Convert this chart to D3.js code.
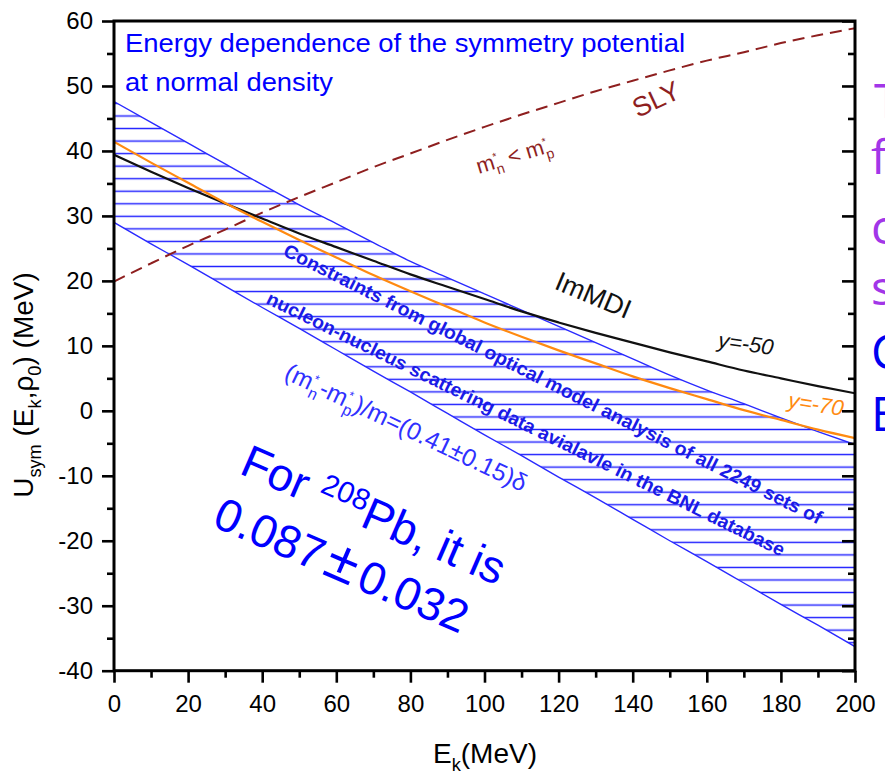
<!DOCTYPE html>
<html>
<head>
<meta charset="utf-8">
<script src="https://cdn.jsdelivr.net/npm/d3@7"></script>
<style>
  body { margin: 0; background: #fff; }
  svg { display: block; }
  text { font-family: "Liberation Sans", Arial, sans-serif; }
</style>
</head>
<body>
<svg id="chart" width="885" height="779"></svg>
<script>
// Kinetic energy grid (MeV) shared by every curve
const energy = [0, 10, 20, 30, 40, 50, 60, 70, 80, 90, 100, 110, 120, 130, 140, 150, 160, 170, 180, 190, 200];

// Symmetry potential U_sym (MeV) at normal density
const immdiY50 = [39.4, 36.8, 34.3, 31.9, 29.6, 27.3, 25.2, 23.1, 21.0, 19.1, 17.2, 15.3, 13.6, 12.0, 10.5, 9.0, 7.6, 6.2, 5.0, 3.8, 2.7];
const immdiY70 = [41.4, 38.2, 35.1, 32.0, 29.1, 26.3, 23.6, 20.9, 18.4, 16.0, 13.6, 11.4, 9.3, 7.3, 5.3, 3.5, 1.8, 0.1, -1.4, -2.9, -4.2];
const slyU     = [19.9, 22.7, 25.4, 27.9, 30.5, 32.9, 35.2, 37.5, 39.6, 41.7, 43.7, 45.6, 47.4, 49.2, 50.8, 52.4, 53.9, 55.2, 56.6, 57.8, 58.9];

// Optical-model constraint band
const bandUpper = [47.6, 44.4, 41.2, 38.0, 34.8, 31.7, 28.8, 25.9, 23.0, 20.5, 18.0, 15.5, 13.0, 10.5, 8.0, 5.5, 3.2, 1.1, -1.1, -3.2, -5.2];
const bandLower = [29.0, 25.7, 22.5, 19.2, 15.9, 12.7, 9.4, 6.1, 2.9, -0.4, -3.7, -6.9, -10.2, -13.4, -16.7, -20.0, -23.2, -26.5, -29.8, -33.0, -36.3];

// Axis ticks
const xTicks = [0, 20, 40, 60, 80, 100, 120, 140, 160, 180, 200];
const xMinor = [10, 30, 50, 70, 90, 110, 130, 150, 170, 190];
const yTicks = [-40, -30, -20, -10, 0, 10, 20, 30, 40, 50, 60];
const yMinor = [-35, -25, -15, -5, 5, 15, 25, 35, 45, 55];

// Slide text continuing past the right edge
const sideLetters = ["T", "f", "c", "s", "C", "E"];
const sideColors  = ["#a236e8", "#a236e8", "#a236e8", "#a236e8", "#0000f0", "#0000f0"];

const svg = d3.select("#chart");
const x = d3.scaleLinear().domain([0, 200]).range([114, 855]);
const y = d3.scaleLinear().domain([-40, 60]).range([670.7, 21]);

const defs = svg.append("defs");
defs.append("clipPath").attr("id", "plot-clip")
  .append("rect").attr("x", x(0)).attr("y", y(60))
  .attr("width", x(200) - x(0)).attr("height", y(-40) - y(60));

const hatchGap = 12.54;
const hatch = defs.append("pattern").attr("id", "hatch")
  .attr("patternUnits", "userSpaceOnUse")
  .attr("x", 0).attr("y", -3.13)
  .attr("width", 885).attr("height", hatchGap);
hatch.append("line")
  .attr("x1", 0).attr("x2", 885)
  .attr("y1", hatchGap / 2).attr("y2", hatchGap / 2)
  .attr("stroke", "#2020ff").attr("stroke-width", 1.5);

const plot = svg.append("g").attr("clip-path", "url(#plot-clip)");
const idx = energy.map((_, i) => i);

// Hatched constraint band
const band = d3.area()
  .x(i => x(energy[i]))
  .y0(i => y(bandLower[i]))
  .y1(i => y(bandUpper[i]))
  .curve(d3.curveMonotoneX);
plot.append("path").attr("d", band(idx)).attr("fill", "url(#hatch)");

function curveOf(values) {
  return d3.line().x(i => x(energy[i])).y(i => y(values[i])).curve(d3.curveMonotoneX)(idx);
}
plot.append("path").attr("d", curveOf(bandUpper)).attr("fill", "none").attr("stroke", "#2a2aff").attr("stroke-width", 1.4);
plot.append("path").attr("d", curveOf(bandLower)).attr("fill", "none").attr("stroke", "#2a2aff").attr("stroke-width", 1.4);

// Model curves
plot.append("path").attr("d", curveOf(slyU)).attr("fill", "none")
  .attr("stroke", "#8e1f1f").attr("stroke-width", 2).attr("stroke-dasharray", "12,7");
plot.append("path").attr("d", curveOf(immdiY50)).attr("fill", "none")
  .attr("stroke", "#111").attr("stroke-width", 2.2);
plot.append("path").attr("d", curveOf(immdiY70)).attr("fill", "none")
  .attr("stroke", "#ff8a10").attr("stroke-width", 2.2);

// Rich text helper: parts with optional sub/sup
function rich(textSel, parts, size) {
  let shift = 0;
  parts.forEach(p => {
    const target = p.sub ? size * 0.28 : p.sup ? -size * (p.raise || 0.38) : 0;
    const fs = p.sub || p.sup ? size * (p.scale || 0.65) : size * (p.scale || 1);
    const t = textSel.append("tspan")
      .attr("dy", target - shift)
      .style("font-size", fs + "px")
      .text(p.t);
    if (p.dx) t.attr("dx", p.dx);
    shift = target;
  });
}

function label(cx, cy, angle) {
  return svg.append("g").attr("transform", `translate(${cx},${cy}) rotate(${angle})`);
}

// Title
svg.append("text").attr("x", 125).attr("y", 52).attr("fill", "#0000ff")
  .style("font-size", "25px").attr("textLength", 560).attr("lengthAdjust", "spacingAndGlyphs")
  .text("Energy dependence of the symmetry potential");
svg.append("text").attr("x", 125).attr("y", 91).attr("fill", "#0000ff")
  .style("font-size", "25px").attr("textLength", 208).attr("lengthAdjust", "spacingAndGlyphs")
  .text("at normal density");

// Curve labels
label(656, 99, -25).append("text").attr("text-anchor", "middle").attr("y", 9.5)
  .attr("fill", "#8e1f1f").style("font-size", "27px").text("SLY");

const mlab = label(514, 156, -17).append("text").attr("text-anchor", "middle").attr("y", 7)
  .attr("fill", "#8e1f1f").style("font-size", "22px");
rich(mlab, [
  { t: "m" }, { t: "*", sup: true, scale: 0.5 }, { t: "n", sub: true, dx: -4 },
  { t: " < m" }, { t: "*", sup: true, scale: 0.5 }, { t: "p", sub: true, dx: -4 }
], 22);

label(593.5, 295, 23).append("text").attr("text-anchor", "middle").attr("y", 9.5)
  .attr("fill", "#111").style("font-size", "27px").text("ImMDI");

label(746, 343.5, 8).append("text").attr("text-anchor", "middle").attr("y", 7.7)
  .attr("fill", "#111").style("font-size", "22px").style("font-style", "italic").text("y=-50");

label(816, 404, 9).append("text").attr("text-anchor", "middle").attr("y", 7.7)
  .attr("fill", "#ff8a10").style("font-size", "22px").style("font-style", "italic").text("y=-70");

// Band annotations
label(282, 255, 26.7).append("text")
  .attr("fill", "#1a1ae6").style("font-size", "19px").style("font-weight", "bold")
  .attr("textLength", 600).attr("lengthAdjust", "spacingAndGlyphs")
  .text("Constraints from global optical model analysis of all 2249 sets of");
label(265, 303, 26.2).append("text")
  .attr("fill", "#1a1ae6").style("font-size", "19px").style("font-weight", "bold")
  .attr("textLength", 575).attr("lengthAdjust", "spacingAndGlyphs")
  .text("nucleon-nucleus scattering data avialavle in the BNL database");

const ratio = label(283, 378, 25.5).append("text").attr("fill", "#3030ff").style("font-size", "24.5px");
rich(ratio, [
  { t: "(m" }, { t: "*", sup: true, scale: 0.5 }, { t: "n", sub: true, dx: -4 },
  { t: "-m" }, { t: "*", sup: true, scale: 0.5 }, { t: "p", sub: true, dx: -4 },
  { t: ")/m=(0.41±0.15)δ" }
], 24.5);

// Lead-208 note
const note = label(238, 473, 23.5);
const note1 = note.append("text").attr("fill", "#0000ff").style("font-size", "46px");
rich(note1, [{ t: "For " }, { t: "208", sup: true, raise: 0.33 }, { t: "Pb, it is" }], 46);
const note2 = note.append("text").attr("x", -4).attr("y", 59).attr("fill", "#0000ff").style("font-size", "46px");
rich(note2, [{ t: "0.087" }, { t: "±", scale: 1.25, dx: 5 }, { t: "0.032", dx: 5 }], 46);

// Axes
function styleAxis(g, size) {
  g.attr("font-family", null).attr("font-size", null);
  g.select(".domain").remove();
  g.selectAll(".tick line").attr("stroke", "#000").attr("stroke-width", 2.6);
  g.selectAll(".tick text").attr("fill", "#000").style("font-size", size + "px");
}
const noLabel = () => "";
const plain = d => String(d);

styleAxis(svg.append("g").attr("transform", `translate(0,${y(-40)})`)
  .call(d3.axisBottom(x).tickValues(xTicks).tickSize(12).tickPadding(12).tickFormat(plain)), 24);
styleAxis(svg.append("g").attr("transform", `translate(0,${y(-40)})`)
  .call(d3.axisBottom(x).tickValues(xMinor).tickSize(7).tickFormat(noLabel)), 24);

styleAxis(svg.append("g").attr("transform", `translate(${x(0)},0)`)
  .call(d3.axisLeft(y).tickValues(yTicks).tickSize(12).tickPadding(9).tickFormat(plain)), 24);
styleAxis(svg.append("g").attr("transform", `translate(${x(0)},0)`)
  .call(d3.axisLeft(y).tickValues(yMinor).tickSize(7).tickFormat(noLabel)), 24);

styleAxis(svg.append("g").attr("transform", `translate(${x(200)},0)`)
  .call(d3.axisRight(y).tickValues(yTicks).tickSize(-13).tickFormat(noLabel)), 24);
styleAxis(svg.append("g").attr("transform", `translate(${x(200)},0)`)
  .call(d3.axisRight(y).tickValues(yMinor).tickSize(-7).tickFormat(noLabel)), 24);

svg.append("rect").attr("x", x(0)).attr("y", y(60))
  .attr("width", x(200) - x(0)).attr("height", y(-40) - y(60))
  .attr("fill", "none").attr("stroke", "#000").attr("stroke-width", 3);

// Axis titles
const xTitle = svg.append("text").attr("x", 485).attr("y", 763).attr("text-anchor", "middle")
  .attr("fill", "#000").style("font-size", "28px");
rich(xTitle, [{ t: "E" }, { t: "k", sub: true }, { t: "(MeV)" }], 28);

const yTitle = svg.append("g").attr("transform", "translate(33,385) rotate(-90)")
  .append("text").attr("text-anchor", "middle").attr("fill", "#000").style("font-size", "28px");
rich(yTitle, [
  { t: "U" }, { t: "sym", sub: true }, { t: " (E" }, { t: "k", sub: true },
  { t: ",ρ" }, { t: "0", sub: true }, { t: ") (MeV)" }
], 28);

// Slide text on the right margin
const sideBaselines = [118, 174, 244, 305, 369, 431];
const sideX = [874, 871, 871, 871, 871, 871];
sideLetters.forEach((ch, i) => {
  svg.append("text").attr("x", sideX[i]).attr("y", sideBaselines[i])
    .attr("fill", sideColors[i]).style("font-family", "'Open Sans', sans-serif")
    .style("font-size", "48px").text(ch);
});
</script>
</body>
</html>
